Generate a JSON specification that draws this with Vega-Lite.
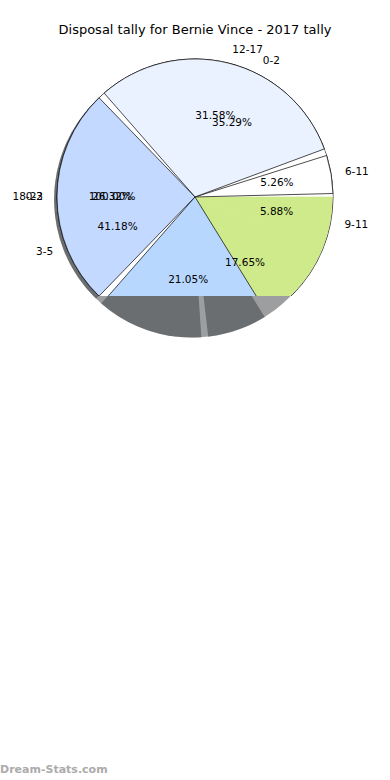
{
  "$schema": "https://vega.github.io/schema/vega-lite/v6.json",
  "width": 390,
  "height": 256,
  "autosize": {"type": "none"},
  "padding": {"top": 40, "left": 0, "right": 0, "bottom": 484},
  "title": {"text": "Disposal tally for Bernie Vince - 2017 tally", "font": "DejaVu Sans", "fontSize": 13, "fontWeight": "normal", "color": "#000000", "offset": 3, "anchor": "middle"},
  "config": {"view": {"stroke": null}, "font": "DejaVu Sans"},
  "datasets": {
    "pieA": [
      {"n": 1, "label": "6-11", "share": 0.0526},
      {"n": 2, "label": "12-17", "share": 0.3158},
      {"n": 3, "label": "18-23", "share": 0.2632},
      {"n": 4, "label": "3-5", "share": 0.2105}
    ],
    "pieB": [
      {"n": 1, "label": "0-2", "share": 0.3529},
      {"n": 2, "label": "3-5", "share": 0.4118},
      {"n": 3, "label": "6-8", "share": 0.1765},
      {"n": 4, "label": "9-11", "share": 0.0588}
    ],
    "pieC": [
      {"n": 1, "label": "0-2", "share": 1.0}
    ],
    "mark": [
      {"site": "Dream-Stats.com"}
    ]
  },
  "resolve": {"scale": {"color": "independent", "stroke": "independent"}},
  "layer": [
    {
      "data": {"name": "pieB"},
      "mark": {"type": "arc", "radius": 138, "padAngle": 0.05, "color": "#3a3d42", "opacity": 0.5},
      "encoding": {
        "x": {"datum": -0.02, "type": "quantitative", "scale": {"domain": [-1.3356, 1.3356], "nice": false, "zero": false}, "axis": null},
        "y": {"datum": -0.02, "type": "quantitative", "scale": {"domain": [-0.756, 1.198], "nice": false, "zero": false}, "axis": null},
        "theta": {"field": "share", "type": "quantitative", "stack": true, "scale": {"domain": [0, 1], "range": [1.5708, -4.7124]}},
        "order": {"field": "n"}
      }
    },
    {
      "data": {"name": "pieA"},
      "mark": {"type": "arc", "radius": 138, "padAngle": 0.05, "color": "#3a3d42", "opacity": 0.5},
      "encoding": {
        "x": {"datum": -0.02, "type": "quantitative"},
        "y": {"datum": -0.02, "type": "quantitative"},
        "theta": {"field": "share", "type": "quantitative", "stack": true},
        "order": {"field": "n"}
      }
    },
    {
      "data": {"name": "pieC"},
      "mark": {"type": "arc", "radius": 138, "fill": "#ffffff", "stroke": "#000000", "strokeWidth": 0.8, "clip": true},
      "encoding": {
        "x": {"datum": 0, "type": "quantitative"},
        "y": {"datum": 0, "type": "quantitative"},
        "theta": {"field": "share", "type": "quantitative", "stack": true},
        "order": {"field": "n"}
      }
    },
    {
      "data": {"name": "pieB"},
      "mark": {"type": "arc", "radius": 137.4, "strokeWidth": 0.6, "clip": true},
      "encoding": {
        "x": {"datum": 0, "type": "quantitative"},
        "y": {"datum": 0, "type": "quantitative"},
        "theta": {"field": "share", "type": "quantitative", "stack": true},
        "order": {"field": "n"},
        "color": {"field": "label", "type": "nominal", "scale": {"domain": ["0-2", "3-5", "6-8", "9-11"], "range": ["#ffffff", "#ffffff", "#cfea8a", "#cfea8a"]}, "legend": null},
        "stroke": {"field": "label", "type": "nominal", "scale": {"domain": ["0-2", "3-5", "6-8", "9-11"], "range": ["#ffffff", "#ffffff", "#cfea8a", "#cfea8a"]}, "legend": null}
      }
    },
    {
      "data": {"name": "pieA"},
      "mark": {"type": "arc", "radius": 138, "padAngle": 0.05, "stroke": "#000000", "strokeWidth": 0.7, "clip": true},
      "encoding": {
        "x": {"datum": 0, "type": "quantitative"},
        "y": {"datum": 0, "type": "quantitative"},
        "theta": {"field": "share", "type": "quantitative", "stack": true},
        "order": {"field": "n"},
        "color": {"field": "label", "type": "nominal", "scale": {"domain": ["6-11", "12-17", "18-23", "3-5"], "range": ["#ffffff", "#eaf2ff", "#c4d9ff", "#b7d7ff"]}, "legend": null}
      }
    },
    {
      "data": {"name": "pieC"},
      "mark": {"type": "text", "radius": 83, "fontSize": 10.5, "color": "#000000", "align": "center", "baseline": "middle", "clip": true},
      "encoding": {
        "x": {"datum": 0, "type": "quantitative"},
        "y": {"datum": 0, "type": "quantitative"},
        "theta": {"field": "share", "type": "quantitative", "stack": true},
        "order": {"field": "n"},
        "text": {"field": "share", "type": "quantitative", "format": ".2%"}
      }
    },
    {
      "data": {"name": "pieC"},
      "mark": {"type": "text", "radius": 152, "fontSize": 10.5, "color": "#000000", "align": "right", "baseline": "middle", "clip": true},
      "encoding": {
        "x": {"datum": 0, "type": "quantitative"},
        "y": {"datum": 0, "type": "quantitative"},
        "theta": {"field": "share", "type": "quantitative", "stack": true},
        "order": {"field": "n"},
        "text": {"field": "label", "type": "nominal"}
      }
    },
    {
      "data": {"name": "pieB"},
      "mark": {"type": "text", "radius": 83, "fontSize": 10.5, "color": "#000000", "align": "center", "baseline": "middle", "clip": true},
      "encoding": {
        "x": {"datum": 0, "type": "quantitative"},
        "y": {"datum": 0, "type": "quantitative"},
        "theta": {"field": "share", "type": "quantitative", "stack": true},
        "order": {"field": "n"},
        "text": {"field": "share", "type": "quantitative", "format": ".2%"}
      }
    },
    {
      "data": {"name": "pieB"},
      "mark": {"type": "text", "radius": 152, "fontSize": 10.5, "color": "#000000", "align": "left", "baseline": "middle", "clip": true},
      "encoding": {
        "x": {"datum": 0, "type": "quantitative"},
        "y": {"datum": 0, "type": "quantitative"},
        "theta": {"field": "share", "type": "quantitative", "stack": true},
        "order": {"field": "n"},
        "text": {"condition": {"test": "datum.label !== '3-5'", "field": "label"}, "value": ""}
      }
    },
    {
      "data": {"name": "pieB"},
      "mark": {"type": "text", "radius": 152, "fontSize": 10.5, "color": "#000000", "align": "right", "baseline": "middle", "clip": true},
      "encoding": {
        "x": {"datum": 0, "type": "quantitative"},
        "y": {"datum": 0, "type": "quantitative"},
        "theta": {"field": "share", "type": "quantitative", "stack": true},
        "order": {"field": "n"},
        "text": {"condition": {"test": "datum.label === '3-5'", "field": "label"}, "value": ""}
      }
    },
    {
      "data": {"name": "pieA"},
      "mark": {"type": "text", "radius": 83, "fontSize": 10.5, "color": "#000000", "align": "center", "baseline": "middle", "clip": true},
      "encoding": {
        "x": {"datum": 0, "type": "quantitative"},
        "y": {"datum": 0, "type": "quantitative"},
        "theta": {"field": "share", "type": "quantitative", "stack": true},
        "order": {"field": "n"},
        "text": {"field": "share", "type": "quantitative", "format": ".2%"}
      }
    },
    {
      "data": {"name": "pieA"},
      "mark": {"type": "text", "radius": 152, "fontSize": 10.5, "color": "#000000", "align": "left", "baseline": "middle", "clip": true},
      "encoding": {
        "x": {"datum": 0, "type": "quantitative"},
        "y": {"datum": 0, "type": "quantitative"},
        "theta": {"field": "share", "type": "quantitative", "stack": true},
        "order": {"field": "n"},
        "text": {"condition": {"test": "datum.label === '6-11' || datum.label === '12-17'", "field": "label"}, "value": ""}
      }
    },
    {
      "data": {"name": "pieA"},
      "mark": {"type": "text", "radius": 152, "fontSize": 10.5, "color": "#000000", "align": "right", "baseline": "middle", "clip": true},
      "encoding": {
        "x": {"datum": 0, "type": "quantitative"},
        "y": {"datum": 0, "type": "quantitative"},
        "theta": {"field": "share", "type": "quantitative", "stack": true},
        "order": {"field": "n"},
        "text": {"condition": {"test": "datum.label === '18-23' || datum.label === '3-5'", "field": "label"}, "value": ""}
      }
    },
    {
      "data": {"name": "mark"},
      "mark": {"type": "text", "fontSize": 11, "fontWeight": "bold", "color": "#ababab", "align": "left", "baseline": "middle"},
      "encoding": {
        "x": {"datum": -1.3356, "type": "quantitative"},
        "y": {"datum": -4.374, "type": "quantitative"},
        "text": {"field": "site", "type": "nominal"}
      }
    }
  ]
}
